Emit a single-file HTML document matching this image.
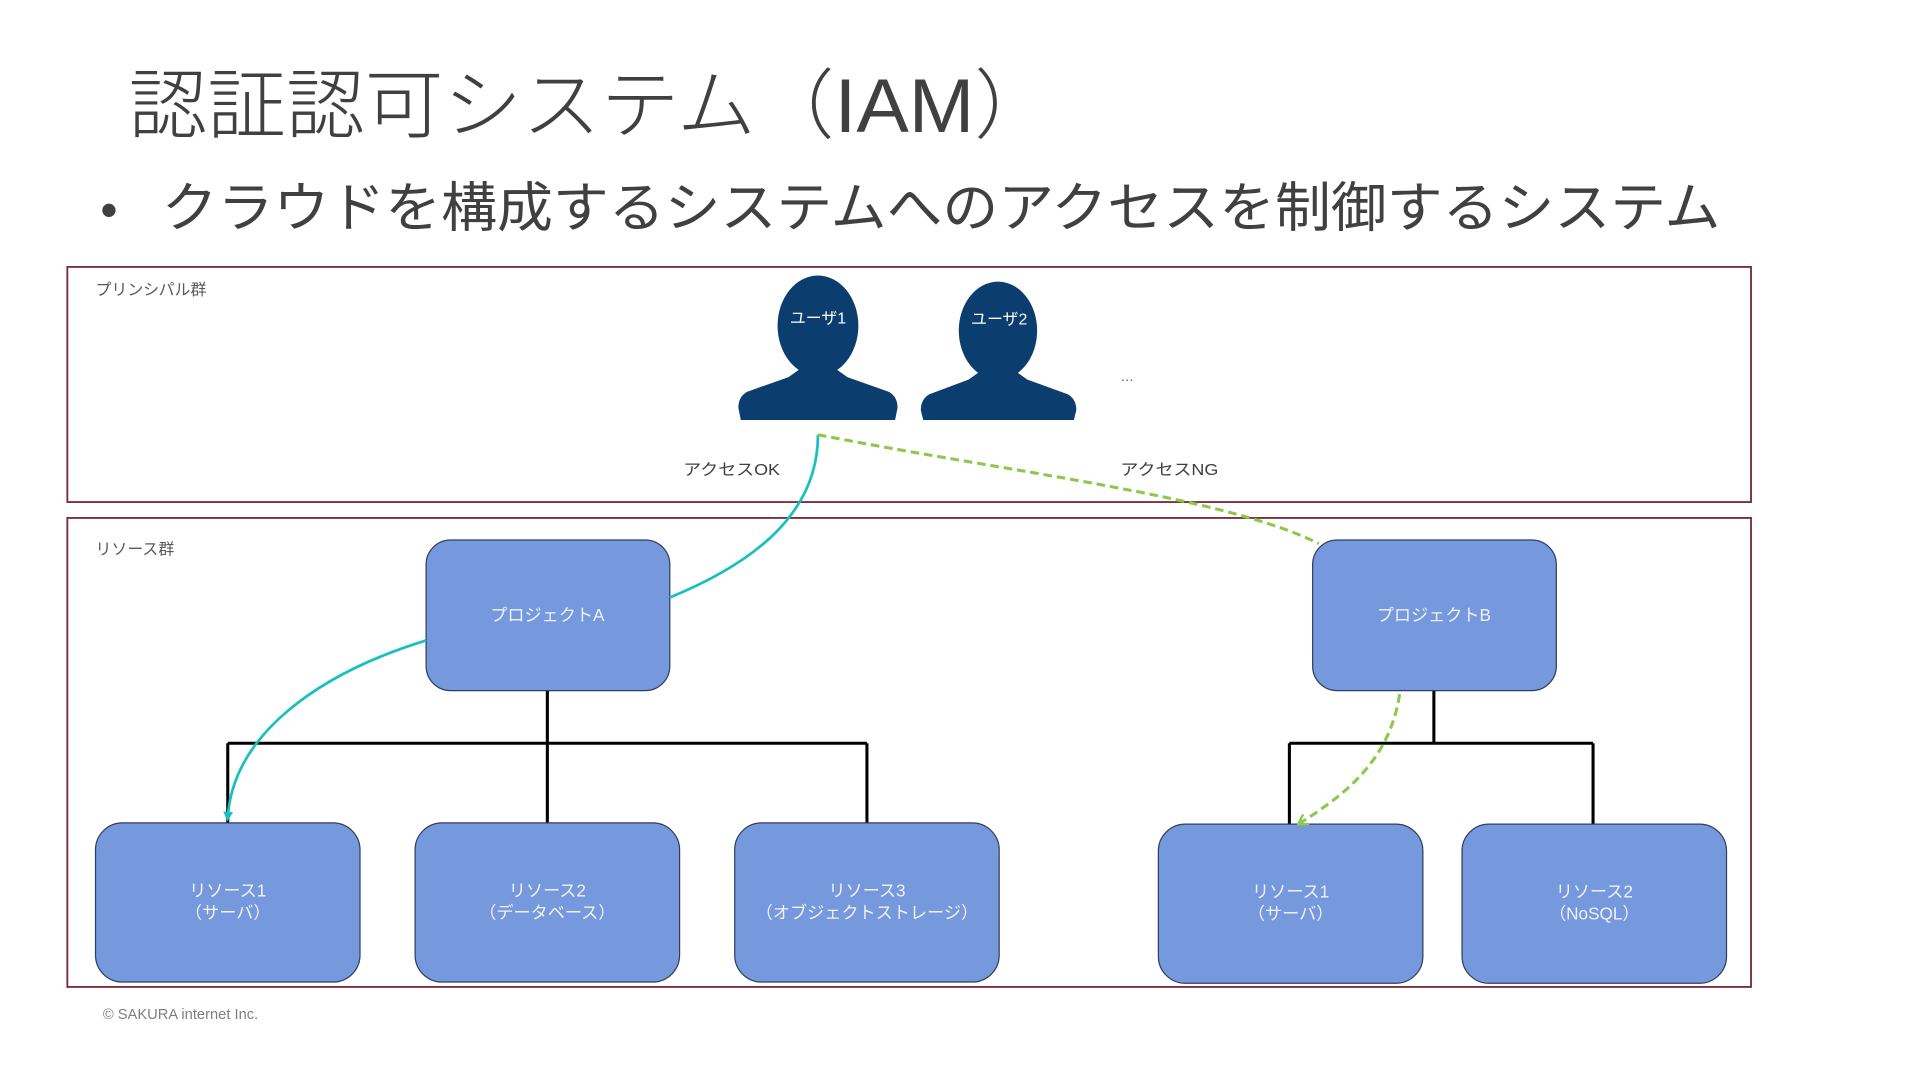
<!DOCTYPE html>
<html><head><meta charset="utf-8"><style>
html,body{margin:0;padding:0;background:#fff;}
svg{display:block;}
text{font-family:"Liberation Sans","Noto Sans CJK JP",sans-serif;}
</style></head><body>
<svg width="1920" height="1080" viewBox="0 0 1568 882" xmlns="http://www.w3.org/2000/svg">
<defs>
<marker id="at" markerWidth="8" markerHeight="8" refX="5" refY="4" orient="auto" markerUnits="userSpaceOnUse"><path d="M0,0 L8,4 L0,8 z" fill="#17c0c0"/></marker>
<marker id="ag" markerWidth="10" markerHeight="10" refX="6" refY="5" orient="auto" markerUnits="userSpaceOnUse"><path d="M0,0 L8,5 L0,10" fill="none" stroke="#8cc84b" stroke-width="2"/></marker>
</defs>
<text x="105" y="108" font-size="62" fill="#404040" font-weight="300" textLength="755" lengthAdjust="spacingAndGlyphs">認証認可システム（IAM）</text>
<text x="82" y="185" font-size="40" fill="#404040">•</text>
<text x="132" y="185" font-size="44" fill="#404040" textLength="1273" lengthAdjust="spacingAndGlyphs">クラウドを構成するシステムへのアクセスを制御するシステム</text>

<rect x="55" y="218" width="1375" height="192" fill="none" stroke="#7b2a3a" stroke-width="1.5"/>
<text x="78" y="241" font-size="13" fill="#595959">プリンシパル群</text>
<rect x="55" y="423" width="1375" height="383" fill="none" stroke="#7b2a3a" stroke-width="1.5"/>
<text x="78" y="453" font-size="13" fill="#595959">リソース群</text>

<g fill="#0b3d6e">
<ellipse cx="668" cy="266" rx="33" ry="41"/>
<path d="M658,298 L678,298 L692,308 L726,320 Q733,324 733,333 L731,343 L605,343 L603,333 Q603,324 610,320 L644,308 Z"/>
<ellipse cx="815" cy="270" rx="32" ry="40"/>
<path d="M805,300 L825,300 L839,310 L872,322 Q879,326 879,335 L877,343 L754,343 L752,335 Q752,326 759,322 L791,310 Z"/>
</g>
<text x="668" y="264" font-size="13" fill="#ffffff" text-anchor="middle">ユーザ1</text>
<text x="816" y="265" font-size="13" fill="#ffffff" text-anchor="middle">ユーザ2</text>
<text x="915" y="311" font-size="11" fill="#595959">…</text>
<text x="558" y="388" font-size="13" fill="#404040" textLength="79" lengthAdjust="spacingAndGlyphs">アクセスOK</text>
<text x="915" y="388" font-size="13" fill="#404040" textLength="80" lengthAdjust="spacingAndGlyphs">アクセスNG</text>

<g stroke="#000" stroke-width="2.5" fill="none">
<path d="M447,564 V607 M186,607 H708 M186,607 V672 M447,607 V672 M708,607 V672"/>
<path d="M1171,564 V607 M1053,607 H1301 M1053,607 V673 M1301,607 V673"/>
</g>

<g fill="#7599dc" stroke="#2f3f5f" stroke-width="1">
<rect x="348" y="441" width="199" height="123" rx="20"/>
<rect x="1072" y="441" width="199" height="123" rx="20"/>
<rect x="78" y="672" width="216" height="130" rx="22"/>
<rect x="339" y="672" width="216" height="130" rx="22"/>
<rect x="600" y="672" width="216" height="130" rx="22"/>
<rect x="946" y="673" width="216" height="130" rx="22"/>
<rect x="1194" y="673" width="216" height="130" rx="22"/>
</g>
<g font-size="14" fill="#eef2fb" text-anchor="middle">
<text x="447" y="507">プロジェクトA</text>
<text x="1171" y="507">プロジェクトB</text>
<text x="186" y="732">リソース1</text><text x="186" y="750">（サーバ）</text>
<text x="447" y="732">リソース2</text><text x="447" y="750">（データベース）</text>
<text x="708" y="732">リソース3</text><text x="708" y="750">（オブジェクトストレージ）</text>
<text x="1054" y="733">リソース1</text><text x="1054" y="751">（サーバ）</text>
<text x="1302" y="733">リソース2</text><text x="1302" y="751">（NoSQL）</text>
</g>

<g fill="none">
<path d="M668,355 C668,420 615,460 547,488" stroke="#17c0c0" stroke-width="2.2"/>
<path d="M348,523 C260,550 190,600 186,668" stroke="#17c0c0" stroke-width="2.2" marker-end="url(#at)"/>
<path d="M668,355 C820,385 1000,405 1077,444" stroke="#8cc84b" stroke-width="2.5" stroke-dasharray="7,4"/>
<path d="M1143,567 C1135,620 1100,648 1062,672" stroke="#8cc84b" stroke-width="2.5" stroke-dasharray="7,4" marker-end="url(#ag)"/>
</g>

<text x="84" y="832" font-size="12" fill="#7f7f7f">© SAKURA internet Inc.</text>
</svg>
</body></html>
